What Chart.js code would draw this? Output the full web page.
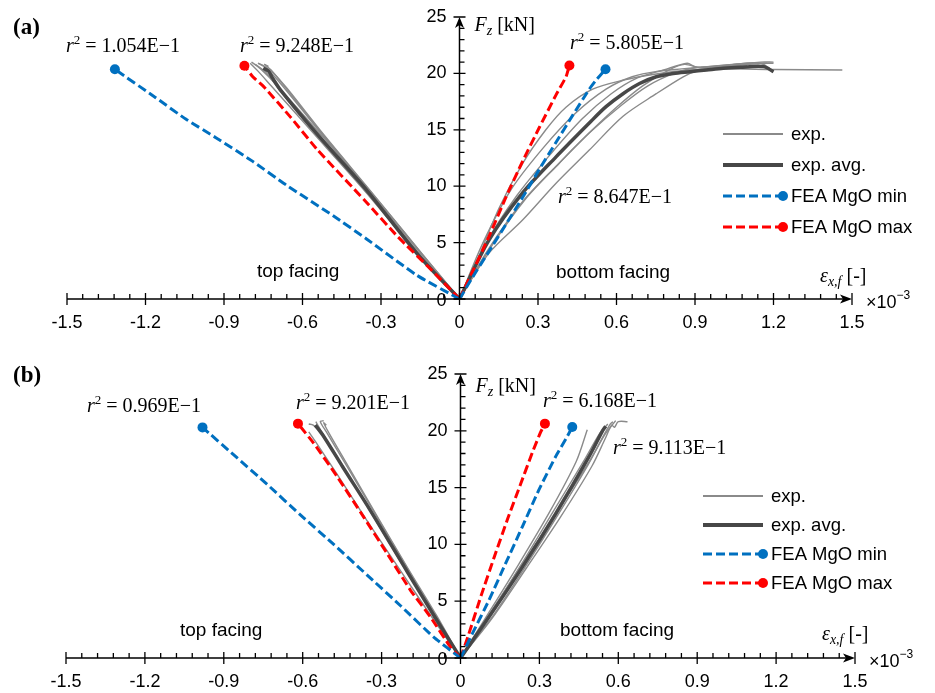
<!DOCTYPE html>
<html><head><meta charset="utf-8">
<script src="https://cdn.jsdelivr.net/npm/chart.js@4.4.1/dist/chart.umd.min.js"></script>
<style>html,body{margin:0;padding:0;background:#fff;}#wrap{position:relative;width:935px;height:693px;overflow:hidden}canvas{position:absolute;left:0}</style>
</head><body><div id="wrap"><canvas id="ca" width="935" height="330" style="top:0"></canvas><canvas id="cb" width="935" height="363" style="top:330px"></canvas></div>
<script>
// ---------- tick labels ----------
const xTickValues = [-1.5,-1.2,-0.9,-0.6,-0.3,0,0.3,0.6,0.9,1.2,1.5];
const xTickLabels = ['-1.5','-1.2','-0.9','-0.6','-0.3','0','0.3','0.6','0.9','1.2','1.5'];
const yTickValues = [0,5,10,15,20,25];
const yTickLabels = ['0','5','10','15','20','25'];
const legendLabels = ['exp.','exp. avg.','FEA MgO min','FEA MgO max'];
const facingLabels = ['top facing','bottom facing'];
const r2LabelsA = ['1.054E\u22121','9.248E\u22121','5.805E\u22121','8.647E\u22121'];
const r2LabelsB = ['0.969E\u22121','9.201E\u22121','6.168E\u22121','9.113E\u22121'];

// ---------- panel (a) data: strain [x10^-3], force [kN] ----------
const aMinLx = [0,-0.163,-0.354,-0.484,-0.662,-0.790,-0.931,-1.046,-1.161,-1.317];
const aMinLy = [0,2.1,5.3,7.4,10.1,12.2,14.3,15.95,17.85,20.36];
const aMaxLx = [0,-0.107,-0.235,-0.363,-0.542,-0.645,-0.747,-0.79,-0.822];
const aMaxLy = [0,2.57,5.5,8.76,13.2,16.1,18.8,19.7,20.68];
const aMinRx = [0,0.049,0.112,0.177,0.241,0.305,0.369,0.433,0.496,0.522,0.558];
const aMinRy = [0,1.9,4.2,6.6,9.0,11.5,13.9,16.3,18.6,19.4,20.36];
const aMaxRx = [0,0.036,0.112,0.177,0.241,0.305,0.369,0.407,0.420];
const aMaxRy = [0,1.75,5.5,9.0,12.2,15.2,18.1,19.7,20.7];
const aAvgLx = [0,-0.163,-0.355,-0.547,-0.68,-0.715,-0.73,-0.75];
const aAvgLy = [0,4.05,9.66,14.7,18.4,19.6,20.2,20.45];
const aAvgRx = [0,0.112,0.241,0.369,0.496,0.560,0.625,0.688,0.752,0.817,0.880,0.944,1.008,1.072,1.162,1.2];
const aAvgRy = [0,5.2,9.4,12.6,15.6,17.05,18.2,19.1,19.7,20.0,20.15,20.3,20.45,20.54,20.6,20.15];
const aExpL1x = [0,-0.15,-0.35,-0.55,-0.70,-0.76,-0.795];
const aExpL1y = [0,4.2,9.8,15.1,19.0,20.4,21.0];
const aExpL2x = [0,-0.16,-0.36,-0.56,-0.69,-0.74,-0.78];
const aExpL2y = [0,4.1,9.6,14.9,18.6,20.1,20.8];
const aExpL3x = [0,-0.14,-0.33,-0.52,-0.66,-0.71,-0.75,-0.77];
const aExpL3y = [0,3.9,9.3,14.6,18.7,20.0,20.7,20.9];
const aExpL4x = [0,-0.17,-0.37,-0.57,-0.72,-0.77,-0.80];
const aExpL4y = [0,4.3,9.8,15.0,18.9,20.2,20.9];
const aExpL5x = [0,-0.15,-0.34,-0.53,-0.67,-0.72,-0.745,-0.73];
const aExpL5y = [0,4.1,9.5,14.8,18.9,20.3,20.8,20.6];
const aExpL6x = [0,-0.16,-0.35,-0.54,-0.68,-0.74,-0.77];
const aExpL6y = [0,4.2,9.7,15.0,19.0,20.5,20.9];
const aExpR1x = [0,0.06,0.15,0.241,0.33,0.407,0.509,0.625,0.752,0.88,1.0,1.2,1.463];
const aExpR1y = [0,3.0,8.0,12.0,15.0,17.0,18.6,19.4,19.95,20.3,20.4,20.35,20.3];
const aExpR2x = [0,0.112,0.241,0.369,0.496,0.625,0.752,0.855,0.906,1.0,1.1,1.175];
const aExpR2y = [0,4.05,7.0,10.26,13.2,16.2,18.2,19.7,20.2,20.6,20.8,20.9];
const aExpR3x = [0,0.1,0.22,0.35,0.47,0.58,0.68,0.78,0.87,0.9,0.95,1.05,1.15,1.2];
const aExpR3y = [0,4.9,9.2,12.9,16.0,18.2,19.6,20.3,20.9,20.6,20.5,20.8,21.0,21.0];
const aExpR4x = [0,0.12,0.25,0.38,0.5,0.62,0.72,0.82,0.9,1.0,1.1,1.2];
const aExpR4y = [0,4.6,8.8,12.0,14.8,17.2,18.9,20.0,20.5,20.7,20.9,20.9];
const aExpR5x = [0,0.11,0.24,0.37,0.49,0.6,0.7,0.8,0.86,0.92,1.0,1.1];
const aExpR5y = [0,4.4,8.6,11.8,14.6,17.0,18.9,20.3,20.8,20.5,20.6,20.7];
const aExpR6x = [0,0.09,0.2,0.32,0.44,0.56,0.66,0.76,0.85,0.95,1.05,1.15,1.2];
const aExpR6y = [0,5.0,9.8,13.4,16.4,18.6,19.7,20.2,20.4,20.6,20.8,20.9,20.2];

// ---------- panel (b) data ----------
const bMinLx = [0,-0.102,-0.228,-0.355,-0.482,-0.609,-0.736,-0.863,-0.981];
const bMinLy = [0,1.84,4.6,7.3,10.0,12.6,15.3,17.9,20.3];
const bMaxLx = [0,-0.038,-0.114,-0.19,-0.279,-0.368,-0.469,-0.558,-0.618];
const bMaxLy = [0,0.95,3.6,5.96,9.2,12.4,15.97,18.9,20.63];
const bMinRx = [0,0.045,0.108,0.171,0.235,0.298,0.362,0.406,0.425];
const bMinRy = [0,2.14,5.08,8.3,11.55,14.8,17.74,19.5,20.34];
const bMaxRx = [0,0.03,0.08,0.13,0.18,0.23,0.275,0.305,0.321];
const bMaxRy = [0,2.0,5.6,9.0,12.3,15.4,18.2,19.9,20.63];
const bAvgLx = [0,-0.1,-0.2,-0.343,-0.45,-0.52,-0.552];
const bAvgLy = [0,3.7,7.5,13.0,16.9,19.5,20.5];
const bAvgRx = [0,0.108,0.235,0.362,0.488,0.539,0.552];
const bAvgRy = [0,3.6,8.0,12.7,17.7,19.95,20.4];
const bExpL1x = [0,-0.1,-0.22,-0.35,-0.47,-0.55,-0.577];
const bExpL1y = [0,3.3,7.4,11.9,16.2,19.0,19.9];
const bExpL2x = [0,-0.1,-0.2,-0.33,-0.44,-0.51,-0.533,-0.52];
const bExpL2y = [0,3.9,7.8,12.9,17.2,19.9,20.8,20.9];
const bExpL3x = [0,-0.1,-0.21,-0.34,-0.45,-0.53,-0.55];
const bExpL3y = [0,3.8,7.8,12.8,17.0,20.0,20.8];
const bExpL4x = [0,-0.09,-0.2,-0.32,-0.43,-0.5,-0.52,-0.51];
const bExpL4y = [0,3.7,7.9,12.6,17.0,19.8,20.7,20.5];
const bExpL5x = [0,-0.1,-0.2,-0.33,-0.45,-0.53,-0.56,-0.577];
const bExpL5y = [0,3.6,7.5,12.5,16.9,19.8,20.5,20.6];
const bExpR1x = [0,0.1,0.22,0.34,0.44,0.482];
const bExpR1y = [0,3.7,8.2,12.9,17.3,20.1];
const bExpR2x = [0,0.12,0.25,0.38,0.5,0.55,0.575,0.585,0.6,0.635];
const bExpR2y = [0,3.5,7.9,12.4,16.9,19.3,20.5,20.3,20.8,20.8];
const bExpR3x = [0,0.11,0.23,0.35,0.47,0.53,0.56];
const bExpR3y = [0,3.8,8.2,12.8,17.4,19.8,20.6];
const bExpR4x = [0,0.12,0.24,0.36,0.48,0.54,0.57,0.58];
const bExpR4y = [0,3.6,7.8,12.2,16.8,19.4,20.6,20.8];
const bExpR5x = [0,0.1,0.23,0.36,0.49,0.55,0.59];
const bExpR5y = [0,3.5,8.1,12.6,17.3,19.7,20.9];

// ---------- styles ----------
const C_EXP = '#8a8a8a', C_AVG = '#474747', C_MIN = '#0070C0', C_MAX = '#FF0000';
const SANS = "'Liberation Sans', Arial, sans-serif";
const SERIF = "'Liberation Serif', 'Times New Roman', serif";

function pts(xs, ys) { return xs.map((x, i) => ({x: x, y: ys[i]})); }
function fea(xs, ys, color) {
  const n = xs.length;
  return { data: pts(xs, ys), borderColor: color, backgroundColor: color, borderWidth: 3, tension: 0.15,
    borderDash: [9, 4], pointRadius: ctx => ctx.dataIndex === n - 1 ? 5 : 0, pointBorderWidth: 0, pointHoverRadius: 0 };
}
function avg(xs, ys) { return { data: pts(xs, ys), borderColor: C_AVG, borderWidth: 3.5, pointRadius: 0, tension: 0.3 }; }
function exp(xs, ys) { return { data: pts(xs, ys), borderColor: C_EXP, borderWidth: 1.4, pointRadius: 0, tension: 0.3 }; }

function rich(ctx, x, y, segs) {
  let cx = x;
  for (const s of segs) { ctx.font = s.f; ctx.fillText(s.t, cx, y + (s.dy || 0)); cx += ctx.measureText(s.t).width + (s.sp || 0); }
}
function r2(ctx, x, y, val) {
  rich(ctx, x, y, [{t: 'r', f: 'italic 20px ' + SERIF}, {t: '2', f: '13px ' + SERIF, dy: -8}, {t: ' = ' + val, f: '20px ' + SERIF}]);
}

const decorPlugin = {
  id: 'decor',
  afterDraw(chart, args, o) {
    const ctx = chart.ctx, xs = chart.scales.x, ys = chart.scales.y;
    const x0 = xs.getPixelForValue(0), y0 = ys.getPixelForValue(0);
    const xL = xs.getPixelForValue(-1.5), xR = xs.getPixelForValue(1.5), yT = ys.getPixelForValue(25);
    ctx.save();
    ctx.strokeStyle = '#000'; ctx.fillStyle = '#000'; ctx.lineWidth = 1.5;
    ctx.beginPath(); ctx.moveTo(xL, y0); ctx.lineTo(xR - 4, y0); ctx.moveTo(x0, y0); ctx.lineTo(x0, yT + 4); ctx.stroke();
    ctx.lineWidth = 1.3;
    ctx.beginPath();
    for (const v of xTickValues) { const p = xs.getPixelForValue(v); ctx.moveTo(p, y0 - 6); ctx.lineTo(p, y0 + 6); }
    for (let i = -25; i <= 25; i++) { if (i % 5 === 0) continue; const p = xs.getPixelForValue(i * 0.06); ctx.moveTo(p, y0 - 5); ctx.lineTo(p, y0); }
    for (const v of yTickValues) { const p = ys.getPixelForValue(v); ctx.moveTo(x0 - 6, p); ctx.lineTo(x0 + 6, p); }
    for (let i = 0; i <= 25; i++) { if (i % 5 === 0) continue; const p = ys.getPixelForValue(i); ctx.moveTo(x0, p); ctx.lineTo(x0 + 5, p); }
    ctx.stroke();
    // arrows
    ctx.beginPath(); ctx.moveTo(x0, yT); ctx.lineTo(x0 - 4.5, yT + 11); ctx.lineTo(x0, yT + 8); ctx.lineTo(x0 + 4.5, yT + 11); ctx.closePath(); ctx.fill();
    ctx.beginPath(); ctx.moveTo(xR, y0); ctx.lineTo(xR - 12, y0 - 4.5); ctx.lineTo(xR - 9, y0); ctx.lineTo(xR - 12, y0 + 4.5); ctx.closePath(); ctx.fill();
    // tick labels
    ctx.font = '18px ' + SANS; ctx.textAlign = 'center'; ctx.textBaseline = 'middle';
    xTickValues.forEach((v, i) => ctx.fillText(xTickLabels[i], xs.getPixelForValue(v), y0 + 24));
    ctx.textAlign = 'right';
    yTickValues.forEach((v, i) => ctx.fillText(yTickLabels[i], x0 - 13, ys.getPixelForValue(v) + (v === 0 ? 2 : 0)));
    ctx.textAlign = 'left'; ctx.textBaseline = 'alphabetic';
    // panel tag
    ctx.font = 'bold 23px ' + SERIF; ctx.fillText(o.tag, 13, o.tagY);
    // r2 labels
    o.r2.forEach((p, i) => r2(ctx, p[0], p[1], o.r2Labels[i]));
    // facing labels
    ctx.font = '19px ' + SANS;
    ctx.fillText(facingLabels[0], o.top[0], o.top[1]);
    ctx.fillText(facingLabels[1], o.bot[0], o.bot[1]);
    // axis titles
    rich(ctx, x0 + 15, o.fzY, [{t: 'F', f: 'italic 20px ' + SERIF}, {t: 'z', f: 'italic 14px ' + SERIF, dy: 4}, {t: ' [kN]', f: '20px ' + SERIF}]);
    rich(ctx, o.eps[0], o.eps[1], [{t: '\u03b5', f: 'italic 20px ' + SERIF}, {t: 'x,f', f: 'italic 14px ' + SERIF, dy: 4}, {t: ' [-]', f: '20px ' + SERIF}]);
    rich(ctx, xR + 14, y0 + 9, [{t: '\u00d710', f: '18px ' + SANS}, {t: '\u22123', f: '12px ' + SANS, dy: -9}]);
    // legend
    const L = o.legend;
    legendLabels.forEach((lab, i) => {
      const y = L.y + i * L.step;
      ctx.save();
      ctx.beginPath(); ctx.moveTo(L.x, y); ctx.lineTo(L.x + L.len, y);
      if (i === 0) { ctx.strokeStyle = C_EXP; ctx.lineWidth = 2; }
      else if (i === 1) { ctx.strokeStyle = C_AVG; ctx.lineWidth = 4; }
      else { ctx.strokeStyle = i === 2 ? C_MIN : C_MAX; ctx.lineWidth = 3; ctx.setLineDash([9, 4]); }
      ctx.stroke();
      if (i >= 2) { ctx.fillStyle = i === 2 ? C_MIN : C_MAX; ctx.beginPath(); ctx.arc(L.x + L.len, y, 5, 0, Math.PI * 2); ctx.fill(); }
      ctx.restore();
      ctx.font = '18.5px ' + SANS; ctx.textBaseline = 'middle'; ctx.fillStyle = '#000';
      ctx.fillText(lab, L.x + L.len + 8, y + 1);
      ctx.textBaseline = 'alphabetic';
    });
    ctx.restore();
  }
};

function makeChart(id, datasets, padding, decor) {
  return new Chart(document.getElementById(id), {
    type: 'line',
    data: { datasets: datasets },
    options: {
      responsive: false, animation: false, devicePixelRatio: 1,
      layout: { padding: padding },
      scales: { x: { type: 'linear', min: -1.5, max: 1.5, display: false }, y: { type: 'linear', min: 0, max: 25, display: false } },
      elements: { line: { fill: false } },
      plugins: { legend: { display: false }, tooltip: { enabled: false }, decor: decor }
    },
    plugins: [decorPlugin]
  });
}

makeChart('ca', [
  fea(aMinLx, aMinLy, C_MIN), fea(aMaxLx, aMaxLy, C_MAX), fea(aMinRx, aMinRy, C_MIN), fea(aMaxRx, aMaxRy, C_MAX),
  avg(aAvgLx, aAvgLy), avg(aAvgRx, aAvgRy),
  exp(aExpL1x, aExpL1y), exp(aExpL2x, aExpL2y), exp(aExpL3x, aExpL3y), exp(aExpL4x, aExpL4y), exp(aExpL5x, aExpL5y), exp(aExpL6x, aExpL6y),
  exp(aExpR1x, aExpR1y), exp(aExpR2x, aExpR2y), exp(aExpR3x, aExpR3y), exp(aExpR4x, aExpR4y), exp(aExpR5x, aExpR5y), exp(aExpR6x, aExpR6y)
], { left: 67, right: 83, top: 17, bottom: 31 }, {
  tag: '(a)', tagY: 34, r2Labels: r2LabelsA,
  r2: [[66, 52], [240, 52], [570, 49], [558, 203]],
  top: [257, 277], bot: [556, 278], fzY: 31, eps: [820, 282],
  legend: { x: 723, y: 134, step: 31, len: 60 }
});

makeChart('cb', [
  fea(bMinLx, bMinLy, C_MIN), fea(bMaxLx, bMaxLy, C_MAX), fea(bMinRx, bMinRy, C_MIN), fea(bMaxRx, bMaxRy, C_MAX),
  avg(bAvgLx, bAvgLy), avg(bAvgRx, bAvgRy),
  exp(bExpL1x, bExpL1y), exp(bExpL2x, bExpL2y), exp(bExpL3x, bExpL3y), exp(bExpL4x, bExpL4y), exp(bExpL5x, bExpL5y),
  exp(bExpR1x, bExpR1y), exp(bExpR2x, bExpR2y), exp(bExpR3x, bExpR3y), exp(bExpR4x, bExpR4y), exp(bExpR5x, bExpR5y)
], { left: 66, right: 80, top: 44, bottom: 35 }, {
  tag: '(b)', tagY: 52, r2Labels: r2LabelsB,
  r2: [[87, 82], [296, 79], [543, 77], [613, 124]],
  top: [180, 306], bot: [560, 306], fzY: 62, eps: [822, 310],
  legend: { x: 703, y: 166, step: 29, len: 60 }
});
</script></body></html>
